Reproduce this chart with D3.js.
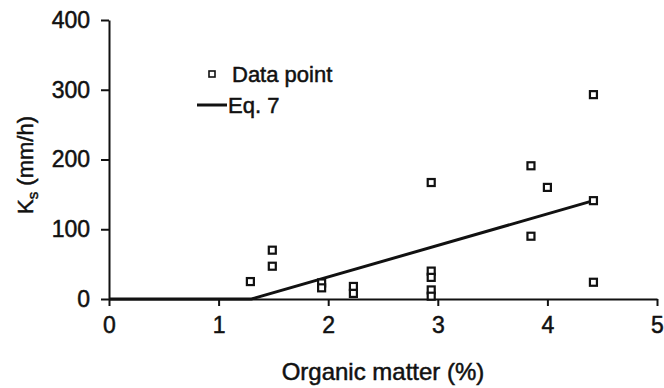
<!DOCTYPE html>
<html>
<head>
<meta charset="utf-8">
<script src="https://cdn.jsdelivr.net/npm/d3@7"></script>
<style>
  body { margin: 0; background: #fff; }
  svg { font-family: "Liberation Sans", Arial, sans-serif; }
  svg text { stroke: #111; stroke-width: 0.5px; }
</style>
</head>
<body>
<script>
// measured points (organic matter %, Ks mm/h)
const organicMatter = [1.29, 1.49, 1.49, 1.94, 1.94, 2.23, 2.23, 2.94, 2.94, 2.94, 2.94, 2.94, 3.85, 3.85, 4.0, 4.42, 4.42, 4.42];
const ksValues      = [25,   70,   47,   23,   16,   18,   8,    167,  40,   31,   13,   4,    191,  90,   160,  293,  141,  24];

// Eq. 7 line
const eqX = [0, 1.3, 4.42];
const eqY = [0, 0, 141];

const xTicks = [0, 1, 2, 3, 4, 5];
const yTicks = [0, 100, 200, 300, 400];

const width = 664, height = 388;
const margin = { top: 20, right: 7, bottom: 89, left: 109 };

const svg = d3.select("body").append("svg")
  .attr("width", width)
  .attr("height", height);

const xScale = d3.scaleLinear()
  .domain([0, 5])
  .range([margin.left, width - margin.right]);

const yScale = d3.scaleLinear()
  .domain([0, 400])
  .range([height - margin.bottom, margin.top]);

// x axis
const xAxis = svg.append("g")
  .attr("transform", "translate(0," + yScale(0) + ")")
  .call(d3.axisBottom(xScale).tickValues(xTicks).tickFormat(d3.format("d"))
    .tickSize(7).tickPadding(11).tickSizeOuter(0));

// y axis
const yAxis = svg.append("g")
  .attr("transform", "translate(" + xScale(0) + ",0)")
  .call(d3.axisLeft(yScale).tickValues(yTicks).tickFormat(d3.format("d"))
    .tickSize(8).tickPadding(11).tickSizeOuter(0));

[xAxis, yAxis].forEach(ax => {
  ax.select(".domain").attr("stroke", "#111").attr("stroke-width", 2);
  ax.selectAll(".tick line").attr("stroke", "#111").attr("stroke-width", 2);
  ax.selectAll(".tick text")
    .attr("fill", "#111")
    .style("font-size", "23px")
    .style("font-family", "'Liberation Sans', Arial, sans-serif");
});

// Eq. 7 line
const line = d3.line()
  .x((d, i) => xScale(eqX[i]))
  .y((d, i) => yScale(eqY[i]));

svg.append("path")
  .datum(eqX)
  .attr("d", line)
  .attr("fill", "none")
  .attr("stroke", "#111")
  .attr("stroke-width", 3);

// data points
const sq = 7;
svg.selectAll(".pt")
  .data(organicMatter)
  .enter()
  .append("rect")
  .attr("class", "pt")
  .attr("x", d => xScale(d) - sq / 2)
  .attr("y", (d, i) => yScale(ksValues[i]) - sq / 2)
  .attr("width", sq)
  .attr("height", sq)
  .attr("fill", "#fff")
  .attr("stroke", "#111")
  .attr("stroke-width", 2.2);

// legend
svg.append("rect")
  .attr("x", 209)
  .attr("y", 71)
  .attr("width", 6)
  .attr("height", 6)
  .attr("fill", "#fff")
  .attr("stroke", "#111")
  .attr("stroke-width", 1.6);

svg.append("text")
  .attr("x", 232)
  .attr("y", 82)
  .text("Data point")
  .style("font-size", "22px")
  .attr("fill", "#111");

svg.append("line")
  .attr("x1", 197)
  .attr("x2", 227)
  .attr("y1", 105)
  .attr("y2", 105)
  .attr("stroke", "#111")
  .attr("stroke-width", 3);

svg.append("text")
  .attr("x", 228)
  .attr("y", 113)
  .text("Eq. 7")
  .style("font-size", "22px")
  .attr("fill", "#111");

// x axis label
svg.append("text")
  .attr("x", 383)
  .attr("y", 380)
  .attr("text-anchor", "middle")
  .style("font-size", "24px")
  .attr("fill", "#111")
  .text("Organic matter (%)");

// y axis label
const yLab = svg.append("text")
  .attr("transform", "translate(33,165) rotate(-90)")
  .attr("text-anchor", "middle")
  .style("font-size", "22px")
  .attr("fill", "#111");
yLab.append("tspan").text("K");
yLab.append("tspan").attr("dy", 5).style("font-size", "15px").text("s");
yLab.append("tspan").attr("dy", -5).text(" (mm/h)");
</script>
</body>
</html>
